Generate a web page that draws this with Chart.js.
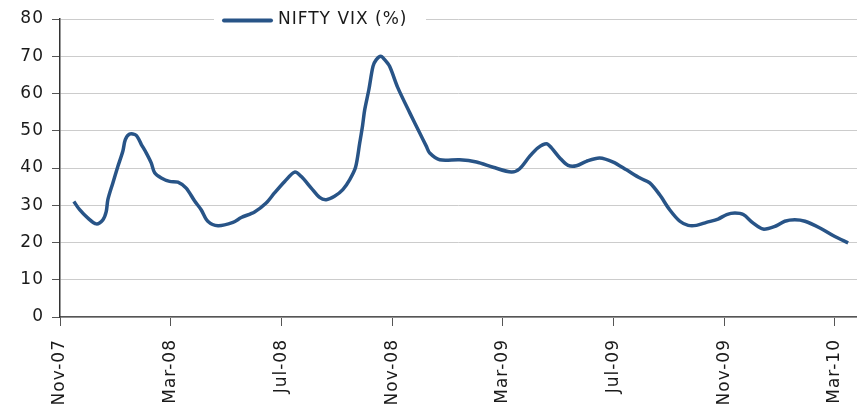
<!DOCTYPE html>
<html>
<head>
<meta charset="utf-8">
<script src="https://cdn.jsdelivr.net/npm/chart.js@4/dist/chart.umd.min.js"></script>
<style>
  html, body { margin: 0; padding: 0; background: #fff; }
  #wrap { width: 857px; height: 409px; position: relative; }
</style>
</head>
<body>
<div id="wrap"><canvas id="c" width="857" height="409"></canvas></div>
<script>
// Months elapsed since 1 Nov 2007 (x) and NIFTY VIX values (%)
const months = [
  0.50, 0.71, 1.00, 1.31, 1.55, 1.67, 1.73, 1.91, 2.09, 2.27, 2.36, 2.51, 2.75, 2.94,
  3.12, 3.30, 3.42, 3.66, 3.96, 4.26, 4.56, 4.86, 5.10, 5.34, 5.71, 6.25, 6.55, 7.03,
  7.45, 7.75, 8.12, 8.48, 8.72, 9.08, 9.38, 9.62, 9.92, 10.22, 10.47, 10.68, 10.83,
  10.93, 11.01, 11.16, 11.31, 11.43, 11.59, 11.73, 11.91, 12.21, 12.64, 13.00, 13.24,
  13.36, 13.72, 14.44, 15.05, 15.65, 16.31, 16.61, 16.97, 17.27, 17.58, 17.76, 18.06,
  18.36, 18.66, 19.02, 19.50, 19.99, 20.47, 20.96, 21.31, 21.67, 22.03, 22.40, 22.70,
  23.00, 23.36, 23.78, 24.09, 24.39, 24.69, 25.05, 25.41, 25.89, 26.19, 26.55, 26.92,
  27.46, 28.00, 28.48
];
const vix = [
  31.0, 28.8, 26.6, 25.0, 26.1, 28.3, 31.5, 36.0, 40.4, 44.5, 47.6, 49.1, 48.8, 46.3,
  44.0, 41.3, 38.7, 37.3, 36.4, 36.2, 34.6, 31.2, 28.8, 25.7, 24.5, 25.4, 26.7, 28.2,
  30.6, 33.3, 36.4, 38.9, 37.7, 34.6, 32.1, 31.5, 32.4, 34.2, 36.9, 40.2, 46.7,
  51.2, 55.6, 61.0, 67.3, 69.1, 70.0, 69.1, 67.3, 61.5, 54.8, 49.4, 45.8,
  44.0, 42.2, 42.2, 41.6, 40.2, 38.9, 39.8, 43.1, 45.4, 46.5, 45.4, 42.7,
  40.7, 40.6, 41.8, 42.7, 41.6, 39.5, 37.3, 36.0, 32.8, 28.8, 25.7, 24.6,
  24.6, 25.4, 26.3, 27.5, 27.9, 27.5, 25.2, 23.6, 24.5, 25.7, 26.1, 25.7,
  23.9, 21.6, 19.9
];
const tickLabels = ['Nov-07', 'Mar-08', 'Jul-08', 'Nov-08', 'Mar-09', 'Jul-09', 'Nov-09', 'Mar-10'];
const tickMonths = [0, 4, 8, 12, 16, 20, 24, 28];
const seriesName = 'NIFTY VIX (%)';

const LINE = '#285487';
const FONT = 'DejaVu Sans';

const spacingPlugin = {
  id: 'spacing',
  beforeLayout(chart) { chart.ctx.letterSpacing = '1px'; },
  beforeDraw(chart) { chart.ctx.letterSpacing = '1px'; }
};

const legendPlugin = {
  id: 'customLegend',
  afterDraw(chart) {
    const ctx = chart.ctx;
    const ds = chart.data.datasets[0];
    ctx.save();
    ctx.fillStyle = '#ffffff';
    ctx.fillRect(214, 8, 212, 24);
    ctx.strokeStyle = ds.borderColor;
    ctx.lineWidth = 4;
    ctx.lineCap = 'round';
    ctx.beginPath();
    ctx.moveTo(224, 20.5);
    ctx.lineTo(271, 20.5);
    ctx.stroke();
    ctx.letterSpacing = '1px';
    ctx.font = '17px "' + FONT + '"';
    ctx.fillStyle = '#1a1a1a';
    ctx.textBaseline = 'middle';
    ctx.textAlign = 'left';
    ctx.fillText(ds.label, 278, 20);
    ctx.restore();
  }
};

new Chart(document.getElementById('c'), {
  type: 'line',
  data: {
    datasets: [{
      label: seriesName,
      data: months.map((m, i) => ({ x: m, y: vix[i] })),
      borderColor: LINE,
      borderWidth: 3.5,
      pointRadius: 0,
      tension: 0.3,
      fill: false
    }]
  },
  options: {
    responsive: false,
    animation: false,
    devicePixelRatio: 1,
    layout: { padding: { top: 19, right: 0, left: 0, bottom: 0 } },
    plugins: { legend: { display: false }, tooltip: { enabled: false } },
    scales: {
      x: {
        type: 'linear',
        min: 0,
        max: 28.8,
        afterBuildTicks: (s) => { s.ticks = tickMonths.map(v => ({ value: v })); },
        afterFit: (s) => { s.height = 92; s.paddingRight = 0; s.paddingLeft = 0; },
        ticks: {
          callback: (v) => tickLabels[tickMonths.indexOf(v)],
          autoSkip: false,
          minRotation: 90,
          maxRotation: 90,
          padding: 13,
          color: '#1a1a1a',
          font: { family: FONT, size: 17 }
        },
        grid: { drawOnChartArea: false, tickLength: 9, tickColor: '#555', tickWidth: 1 },
        border: { color: '#555', width: 1.5 }
      },
      y: {
        min: 0,
        max: 80,
        afterFit: (s) => { s.width = 60; },
        ticks: {
          stepSize: 10,
          padding: 8,
          color: '#1a1a1a',
          font: { family: FONT, size: 17 }
        },
        grid: { color: '#cccccc', lineWidth: 1, tickLength: 8, tickColor: '#555' },
        border: { color: '#333', width: 1.5 }
      }
    }
  },
  plugins: [spacingPlugin, legendPlugin]
});
</script>
</body>
</html>
